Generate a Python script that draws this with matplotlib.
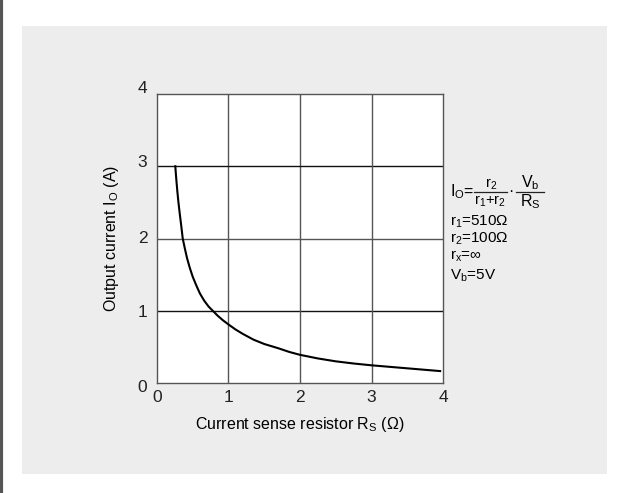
import numpy as np
import matplotlib
matplotlib.use("Agg")
import matplotlib.pyplot as plt
import matplotlib.transforms as mtransforms
from matplotlib.lines import Line2D
from matplotlib.patches import Rectangle

plt.rcParams['font.family'] = ['Liberation Sans', 'DejaVu Sans']
plt.rcParams['mathtext.fontset'] = 'custom'
plt.rcParams['mathtext.rm'] = 'Liberation Sans'
plt.rcParams['mathtext.it'] = 'Liberation Sans'

# curve: Rs (ohm) vs Io (A)
rs = [0.256, 0.27, 0.285, 0.30, 0.32, 0.34, 0.36, 0.39, 0.42, 0.46, 0.50, 0.55,
      0.60, 0.66, 0.72, 0.78, 0.85, 0.92, 1.00, 1.10, 1.20, 1.35, 1.50, 1.70,
      1.85, 2.00, 2.25, 2.50, 2.75, 3.00, 3.30, 3.60, 3.96]
io = [3.00, 2.82, 2.65, 2.50, 2.33, 2.17, 2.00, 1.86, 1.73, 1.59, 1.47, 1.35,
      1.24, 1.14, 1.06, 1.00, 0.93, 0.87, 0.81, 0.74, 0.68, 0.60, 0.54, 0.48,
      0.43, 0.39, 0.34, 0.30, 0.27, 0.245, 0.22, 0.195, 0.165]

xticks = [0, 1, 2, 3, 4]
yticks = [0, 1, 2, 3, 4]

notes = [r"$\mathregular{r_1}$=510Ω", r"$\mathregular{r_2}$=100Ω",
         r"$\mathregular{r_x}$=∞", r"$\mathregular{V_b}$=5V"]

W, H = 621, 493

def px(x, y):
    # pixel position (from top-left) to figure fraction
    return x / W, 1 - y / H

fig = plt.figure(figsize=(6.21, 4.93), dpi=100)
fig.patch.set_facecolor('white')

# gray panel and dark left edge
fig.add_artist(Rectangle((0.0354, 0.0385), 0.942, 0.909, transform=fig.transFigure,
                         facecolor='#ededed', edgecolor='none', zorder=0))
fig.add_artist(Line2D([0.002, 0.002], [0, 1], transform=fig.transFigure,
                      color='#555555', linewidth=3))

ax = fig.add_axes([0.2528, 0.2231, 0.4606, 0.5862])
ax.set_facecolor('white')
ax.plot(rs, io, color='black', linewidth=1.5, zorder=3)

ax.set_xlim(0, 4)
ax.set_ylim(0, 4)
ax.set_xticks(xticks)
ax.set_yticks(yticks)
ax.tick_params(length=0, labelsize=12.5, colors='#222222')
ax.tick_params(axis='x', pad=5)
ax.tick_params(axis='y', pad=7)

# top y labels sit a little high in the original
for lab, dy in zip(ax.get_yticklabels(), [-3, 0, 2, 5, 7]):
    lab.set_transform(lab.get_transform() +
                      mtransforms.ScaledTranslation(0, dy / 100, fig.dpi_scale_trans))

for g, c in zip([1, 2, 3], ['#111111', '#555555', '#111111']):
    ax.axhline(g, color=c, linewidth=1, zorder=1)
    ax.axvline(g, color='#555555', linewidth=1, zorder=1)
for s in ax.spines.values():
    s.set_color('#555555')
    s.set_linewidth(1)

ax.set_xlabel(r"Current sense resistor R$\mathregular{_S}$ (Ω)", fontsize=11.5, labelpad=7)
ax.set_ylabel(r"Output current I$\mathregular{_O}$ (A)", fontsize=11.5, labelpad=12)

# formula block, built piece by piece
fs = 11.5
fig.text(*px(450, 196), r"$\mathregular{I_O}$=", fontsize=fs, va='baseline')
fig.text(*px(491, 188), r"$\mathregular{r_2}$", fontsize=10.5, va='baseline', ha='center')
fig.add_artist(Line2D(*zip(px(474, 192), px(507, 192)), transform=fig.transFigure,
                      color='#222222', linewidth=0.9))
fig.text(*px(490, 205), r"$\mathregular{r_1{+}r_2}$", fontsize=10.5, va='baseline', ha='center')
fig.text(*px(511, 192), "·", fontsize=fs, va='center', ha='center')
fig.text(*px(530, 187), r"$\mathregular{V_b}$", fontsize=fs, va='baseline', ha='center')
fig.add_artist(Line2D(*zip(px(516, 192), px(544, 192)), transform=fig.transFigure,
                      color='#222222', linewidth=0.9))
fig.text(*px(530, 206.5), r"$\mathregular{R_S}$", fontsize=fs, va='baseline', ha='center')

ys = [226, 242.7, 259.3, 280]
for t, y in zip(notes, ys):
    fig.text(*px(450, y), t, fontsize=11, va='baseline', ha='left')

fig.savefig("out.png", dpi=100)
